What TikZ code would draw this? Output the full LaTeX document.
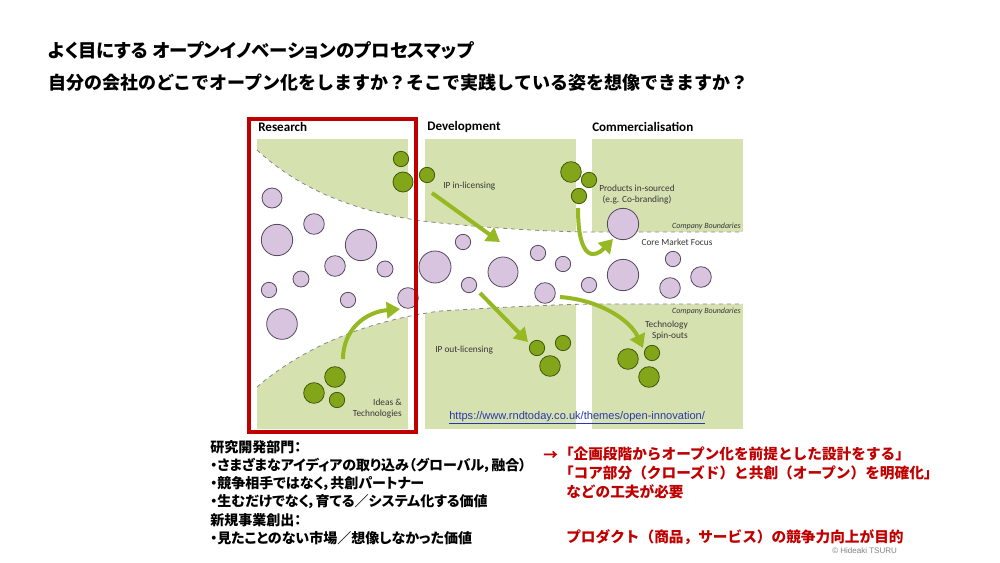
\documentclass[tikz,border=0pt]{standalone}
\usepackage{fontspec}
\setsansfont{Carlito}
\newfontfamily\jpfont[RawFeature=+palt]{Noto Sans CJK JP}
\newfontfamily\jpfullfont{Noto Sans CJK JP}
\newfontfamily\urlfont{Liberation Sans}
\usetikzlibrary{arrows.meta}
\definecolor{panelgreen}{RGB}{214,225,176}
\definecolor{ideapurple}{RGB}{216,196,222}
\definecolor{ideaborder}{RGB}{85,75,95}
\definecolor{seedgreen}{RGB}{130,165,25}
\definecolor{seedborder}{RGB}{65,90,10}
\definecolor{arrowgreen}{RGB}{150,185,35}
\definecolor{dashgrey}{RGB}{135,135,135}
\definecolor{labelgrey}{RGB}{55,55,55}
\definecolor{framered}{RGB}{192,0,0}
\definecolor{urlblue}{RGB}{40,55,175}
\newcommand{\openq}{{\jpfont 「}}
\tikzset{
  treenode/.style = {inner sep=0pt, font=\sffamily},
  idea_node/.style = {circle, draw=ideaborder, fill=ideapurple,
    line width=0.6pt, inner sep=0pt, minimum size=#1},% cercle violet, idee
  seed_node/.style = {circle, draw=seedborder, fill=seedgreen,
    line width=0.6pt, inner sep=0pt, minimum size=#1},% cercle vert, techno
  stage_head/.style = {treenode, anchor=west,
    font=\sffamily\bfseries\fontsize{9.8}{11}\selectfont},% titre de phase
  map_label/.style = {treenode, text=labelgrey,
    font=\sffamily\fontsize{7}{8.5}\selectfont},% texte de la carte
  bound_label/.style = {treenode, anchor=east, text=labelgrey,
    font=\sffamily\itshape\fontsize{6}{7}\selectfont},% frontiere
  flow_arrow/.style = {draw=arrowgreen, line width=3pt,
    -{Triangle[length=10pt, width=12pt]}},% fleche verte
  jp_title/.style = {treenode, anchor=west,
    font=\jpfont\bfseries\fontsize{13.8}{16}\selectfont},% titre japonais
  jp_body/.style = {treenode, anchor=west, align=left,
    font=\jpfont\bfseries\fontsize{10.5}{13.65}\selectfont},% texte japonais
  jp_red/.style = {jp_body, text=framered,
    font=\jpfullfont\bfseries\fontsize{11}{14}\selectfont}% texte rouge
}
\begin{document}
\begin{tikzpicture}[x=0.75pt, y=-0.75pt]
  \useasboundingbox (0,0) rectangle (1000,563);
  % panneaux verts
  \fill[panelgreen] (257,139) rectangle (408,429);
  \fill[panelgreen] (425,139) rectangle (576,429);
  \fill[panelgreen] (592,139) rectangle (743,429);
  % entonnoir blanc
  \fill[white] (257,150) .. controls (300,190) and (360,215) .. (440,223)
    .. controls (500,229) and (560,232) .. (592,232) -- (743,232)
    -- (743,304) -- (592,304) .. controls (540,305) and (490,308) .. (440,311)
    .. controls (360,322) and (300,350) .. (257,387) -- cycle;
  \draw[dashgrey, dashed, line width=0.6pt] (257,150) .. controls (300,190) and (360,215) .. (440,223)
    .. controls (500,229) and (560,232) .. (592,232) -- (743,232);
  \draw[dashgrey, dashed, line width=0.6pt] (257,387) .. controls (300,350) and (360,322) .. (440,311)
    .. controls (490,308) and (540,305) .. (592,304) -- (743,304);

  \node[stage_head] (research) at (258,127) {Research};
  \node[stage_head] (development) at (427,127) {Development};
  \node[stage_head] (commercial) at (592,127) {Commercialisation};

  % idees
  \node[idea_node=15pt] (idea1) at (272,198) {};
  \node[idea_node=15.5pt] (idea2) at (314,224) {};
  \node[idea_node=23.5pt] (idea3) at (277,240) {};
  \node[idea_node=23.5pt] (idea4) at (361,245) {};
  \node[idea_node=15.5pt] (idea5) at (335,266) {};
  \node[idea_node=12pt] (idea6) at (385,269) {};
  \node[idea_node=12pt] (idea7) at (301,279) {};
  \node[idea_node=11.5pt] (idea8) at (269,290) {};
  \node[idea_node=11.5pt] (idea9) at (348,300) {};
  \node[idea_node=15.5pt] (idea10) at (408,298) {};
  \node[idea_node=23pt] (idea11) at (282,324) {};
  \node[idea_node=24pt] (idea12) at (435,267) {};
  \node[idea_node=11.5pt] (idea13) at (463,242) {};
  \node[idea_node=11.5pt] (idea14) at (469,285) {};
  \node[idea_node=22.5pt] (idea15) at (503,272) {};
  \node[idea_node=11.5pt] (idea16) at (538,253) {};
  \node[idea_node=11.5pt] (idea17) at (563,264) {};
  \node[idea_node=15.5pt] (idea18) at (545,293) {};
  \node[idea_node=11.5pt] (idea19) at (589,285) {};
  \node[idea_node=23.5pt] (idea20) at (623,224) {};
  \node[idea_node=23.5pt] (idea21) at (623,275) {};
  \node[idea_node=11.5pt] (idea22) at (673,259) {};
  \node[idea_node=15.5pt] (idea23) at (670,288) {};
  \node[idea_node=15.5pt] (idea24) at (701,277) {};

  % technologies
  \node[seed_node=11.5pt] (seed1) at (401,159) {};
  \node[seed_node=15pt] (seed2) at (403,182) {};
  \node[seed_node=11.5pt] (seed3) at (427,175) {};
  \node[seed_node=15.5pt] (seed4) at (335,377) {};
  \node[seed_node=15.5pt] (seed5) at (314,393) {};
  \node[seed_node=11.5pt] (seed6) at (337,400) {};
  \node[seed_node=15.5pt] (seed7) at (571,172) {};
  \node[seed_node=11.5pt] (seed8) at (589,180) {};
  \node[seed_node=11.5pt] (seed9) at (579,196) {};
  \node[seed_node=11.5pt] (seed10) at (537,348) {};
  \node[seed_node=11.5pt] (seed11) at (563,343) {};
  \node[seed_node=15.5pt] (seed12) at (550,366) {};
  \node[seed_node=15.5pt] (seed13) at (628,359) {};
  \node[seed_node=11.5pt] (seed14) at (652,353) {};
  \node[seed_node=15.5pt] (seed15) at (649,377) {};

  % fleches
  \coordinate (in_start) at (432,193);
  \coordinate (in_end) at (500,242);
  \coordinate (rd_start) at (343,359);
  \coordinate (rd_end) at (400,309);
  \coordinate (out_start) at (480,293);
  \coordinate (out_end) at (528,342);
  \coordinate (spin_start) at (560,297);
  \coordinate (spin_end) at (643,348);
  \coordinate (src_start) at (578,208);
  \coordinate (src_end) at (613,239);
  \draw[flow_arrow] (in_start) -- (in_end);
  \draw[flow_arrow] (rd_start) .. controls (343,330) and (365,312) .. (rd_end);
  \draw[flow_arrow] (out_start) -- (out_end);
  \draw[flow_arrow] (spin_start) .. controls (600,300) and (630,320) .. (spin_end);
  \draw[flow_arrow] (src_start) .. controls (578,262) and (595,258) .. (src_end);

  \node[map_label, anchor=west] (inlic) at (443,186) {IP in-licensing};
  \node[map_label, anchor=west] (outlic) at (435,350) {IP out-licensing};
  \node[map_label, anchor=east, align=right] (ideas) at (402,408.5) {Ideas \&\\Technologies};
  \node[map_label, align=center] (insourced) at (637,194.5) {Products in-sourced\\(e.g. Co-branding)};
  \node[map_label] (core) at (677,242) {Core Market Focus};
  \node[map_label, anchor=east, align=right] (spinout) at (688,330.5) {Technology\\Spin-outs};
  \node[bound_label] (bound_top) at (741,226) {Company Boundaries};
  \node[bound_label] (bound_bot) at (741,311) {Company Boundaries};
  \node[treenode, anchor=west, text=urlblue, font=\urlfont\fontsize{8.3}{10}\selectfont]
    (url) at (449,418) {\underline{https://www.rndtoday.co.uk/themes/open-innovation/}};

  % cadre rouge
  \draw[framered, line width=3pt] (249,119) rectangle (416,432);

  % textes
  \node[jp_title] (title1) at (48,50) {よく目にする オープンイノベーションのプロセスマップ};
  \node[jp_title, font=\jpfullfont\bfseries\fontsize{13.5}{16}\selectfont] (title2) at (48,83) {自分の会社のどこでオープン化をしますか？そこで実践している姿を想像できますか？};
  \node[jp_body] (notes) at (210,492.5) {研究開発部門：\\・さまざまなアイディアの取り込み（グローバル，融合）\\・競争相手ではなく，共創パートナー\\・生むだけでなく，育てる／システム化する価値\\新規事業創出：\\・見たことのない市場／想像しなかった価値};
  \node[jp_red] (arrowmark) at (543,456) {→};
  \node[jp_red, anchor=north west] (advice) at (566,447) {\openq 企画段階からオープン化を前提とした設計をする」\\\openq コア部分（クローズド）と共創（オープン）を明確化」\\などの工夫が必要};
  \node[jp_red] (goal) at (566,537) {プロダクト（商品，サービス）の競争力向上が目的};
  \node[treenode, anchor=west, text=gray, font=\urlfont\fontsize{6}{7}\selectfont]
    (copyright) at (832,551) {© Hideaki TSURU};
\end{tikzpicture}
\end{document}
